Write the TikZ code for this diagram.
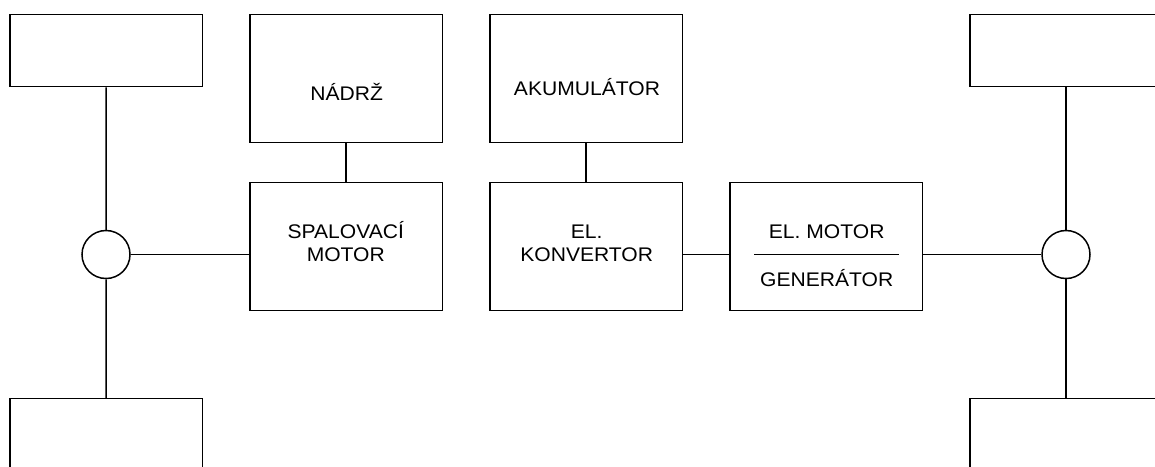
\documentclass[tikz,border=0pt]{standalone}
\usepackage{fontspec}
\setmainfont{Liberation Sans}[FakeStretch=1.07]
\begin{document}
\begin{tikzpicture}[x=1pt,y=-1pt,
  lw/.style={line width=1.5pt},
  box/.style={draw, lw, rectangle, inner sep=0pt, minimum width=192.3pt},
  smallbox/.style={box, minimum height=72.4pt},
  bigbox/.style={box, minimum height=128.4pt},
  wheel/.style={draw, lw, circle, inner sep=0pt, minimum size=48pt},
  lbl/.style={font=\fontsize{19.7}{23}\selectfont, anchor=base, inner sep=0pt},
  conn/.style={lw}]
\useasboundingbox (0,0) rectangle (1155,466);
\clip (0,0) rectangle (1155,466);
% boxes
\node[smallbox] (topL) at (106.15,50.5) {};
\node[smallbox] (botL) at (106.15,434.9) {};
\node[smallbox] (topR) at (1066,50.5) {};
\node[smallbox] (botR) at (1066,434.9) {};
\node[bigbox] (nadrz) at (346.15,78.5) {};
\node[bigbox] (akum) at (586.15,78.5) {};
\node[bigbox] (spal) at (346.15,246.5) {};
\node[bigbox] (konv) at (586.15,246.5) {};
\node[bigbox] (motgen) at (826.35,246.5) {};
\node[wheel] (circL) at (106,254.5) {};
\node[wheel] (circR) at (1066,254.5) {};
% labels
\node[lbl] (tnadrz) at (346.7,100) {NÁDRŽ};
\node[lbl] (takum) at (587,95) {AKUMULÁTOR};
\node[lbl] (tspal1) at (345.8,238.3) {SPALOVACÍ};
\node[lbl] (tspal2) at (345.8,261.7) {MOTOR};
\node[lbl] (tkonv1) at (586.7,238.3) {EL.};
\node[lbl] (tkonv2) at (586.7,261.7) {KONVERTOR};
\node[lbl] (tmot) at (826.7,238.3) {EL. MOTOR};
\node[lbl] (tgen) at (826.7,286.7) {GENERÁTOR};
% divider
\coordinate (d1) at (754,254.5);
\coordinate (d2) at (899,254.5);
\draw[conn] (d1) -- (d2);
% connectors
\draw[conn] (topL) -- (circL);
\draw[conn] (circL) -- (botL);
\draw[conn] (topR) -- (circR);
\draw[conn] (circR) -- (botR);
\draw[conn] (circL.east) -- (circL.east -| spal.west);
\draw[conn] (nadrz) -- (spal);
\draw[conn] (akum) -- (konv);
\draw[conn] (konv.east |- circR) -- (motgen.west |- circR);
\draw[conn] (motgen.east |- circR) -- (circR.west);
\end{tikzpicture}
\end{document}
